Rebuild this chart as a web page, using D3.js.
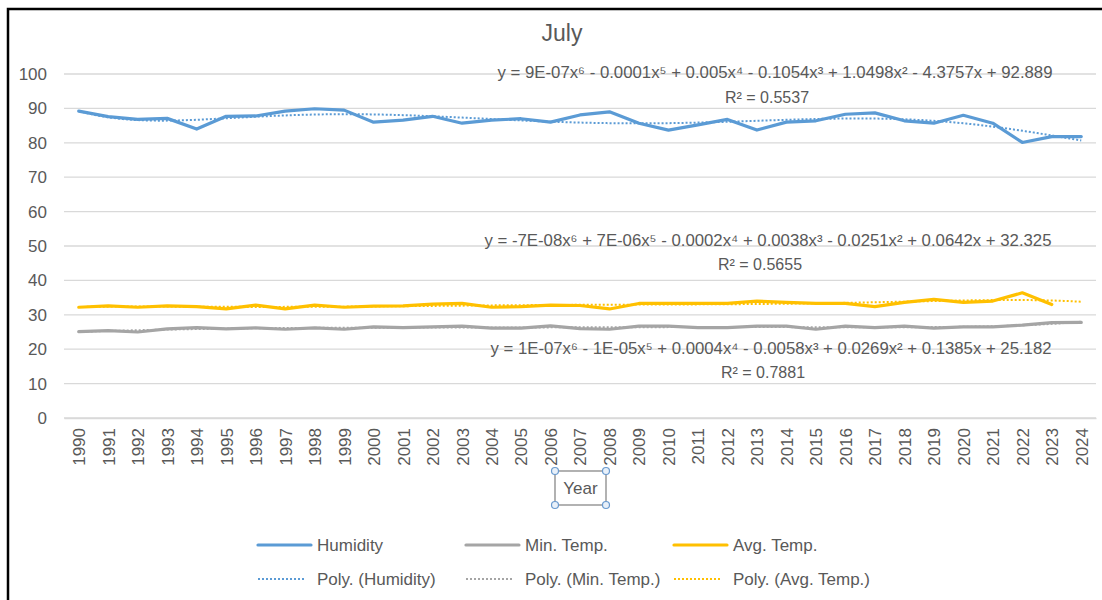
<!DOCTYPE html>
<html>
<head>
<meta charset="utf-8">
<script src="https://cdn.jsdelivr.net/npm/d3@7"></script>
<style>
  body { margin: 0; background: #fff; }
  text { font-family: "Liberation Sans", "DejaVu Sans", sans-serif; fill: #595959; }
</style>
</head>
<body>
<div id="chart"></div>
<script>
const years = d3.range(1990, 2025).map(String);

const humidity = [89.2, 87.6, 86.8, 87.1, 84.0, 87.7, 87.8, 89.2, 89.9, 89.5,
                  86.0, 86.6, 87.7, 85.7, 86.6, 87.0, 86.0, 88.1, 89.0, 85.7,
                  83.7, 85.2, 86.8, 83.7, 86.0, 86.4, 88.3, 88.7, 86.4, 85.7,
                  88.0, 85.7, 80.1, 81.8, 81.8];

const minTemp = [25.1, 25.4, 25.0, 25.9, 26.3, 25.9, 26.2, 25.8, 26.2, 25.8,
                 26.5, 26.3, 26.5, 26.7, 26.1, 26.1, 26.8, 26.0, 25.8, 26.7,
                 26.7, 26.3, 26.3, 26.7, 26.7, 25.8, 26.7, 26.3, 26.7, 26.1,
                 26.5, 26.5, 27.0, 27.7, 27.8];

// no Avg. Temp. reading for 2024
const avgTemp = [32.2, 32.6, 32.2, 32.6, 32.4, 31.7, 32.8, 31.7, 32.8, 32.2,
                 32.5, 32.6, 33.1, 33.3, 32.2, 32.4, 32.8, 32.7, 31.7, 33.3,
                 33.3, 33.3, 33.3, 34.0, 33.6, 33.3, 33.3, 32.4, 33.6, 34.5,
                 33.6, 34.0, 36.4, 33.0, null];

const yTicks = [0, 10, 20, 30, 40, 50, 60, 70, 80, 90, 100];

const seriesNames = ["Humidity", "Min. Temp.", "Avg. Temp."];
const seriesColors = ["#5B9BD5", "#A5A5A5", "#FFC000"];
const trendNames = ["Poly. (Humidity)", "Poly. (Min. Temp.)", "Poly. (Avg. Temp.)"];

const equations = [
  ["y = 9E-07x\u2076 - 0.0001x\u2075 + 0.005x\u2074 - 0.1054x\u00b3 + 1.0498x\u00b2 - 4.3757x + 92.889", "R\u00b2 = 0.5537"],
  ["y = 1E-07x\u2076 - 1E-05x\u2075 + 0.0004x\u2074 - 0.0058x\u00b3 + 0.0269x\u00b2 + 0.1385x + 25.182", "R\u00b2 = 0.7881"],
  ["y = -7E-08x\u2076 + 7E-06x\u2075 - 0.0002x\u2074 + 0.0038x\u00b3 - 0.0251x\u00b2 + 0.0642x + 32.325", "R\u00b2 = 0.5655"]
];

const allSeries = [humidity, minTemp, avgTemp];

// least squares polynomial (order 6) on x = 1..n, like Excel's trendline
function polyFit(vals, order) {
  const pts = vals.map((v, i) => [i + 1, v]).filter(d => d[1] != null);
  const n = pts.length;
  const mid = (pts[0][0] + pts[n - 1][0]) / 2, half = (pts[n - 1][0] - pts[0][0]) / 2;
  const m = order + 1;
  const A = [];
  for (let r = 0; r < m; r++) A.push(new Array(m + 1).fill(0));
  pts.forEach(([x, y]) => {
    const t = (x - mid) / half;
    const p = [];
    for (let k = 0; k < m; k++) p.push(Math.pow(t, k));
    for (let r = 0; r < m; r++) {
      for (let c = 0; c < m; c++) A[r][c] += p[r] * p[c];
      A[r][m] += p[r] * y;
    }
  });
  for (let c = 0; c < m; c++) {
    let piv = c;
    for (let r = c + 1; r < m; r++) if (Math.abs(A[r][c]) > Math.abs(A[piv][c])) piv = r;
    [A[c], A[piv]] = [A[piv], A[c]];
    for (let r = 0; r < m; r++) {
      if (r == c) continue;
      const f = A[r][c] / A[c][c];
      for (let k = c; k <= m; k++) A[r][k] -= f * A[c][k];
    }
  }
  const coef = A.map((row, i) => row[m] / row[i]);
  return x => {
    const t = (x - mid) / half;
    let s = 0;
    for (let k = 0; k < m; k++) s += coef[k] * Math.pow(t, k);
    return s;
  };
}

const width = 1102, height = 600;

const svg = d3.select("#chart")
  .append("svg")
  .attr("width", width)
  .attr("height", height);

// chart frame (left and top edges are in view)
svg.append("path")
  .attr("d", "M8,600 V9 H1102")
  .attr("fill", "none")
  .attr("stroke", "#000")
  .attr("stroke-width", 2.5);

const x = d3.scalePoint()
  .domain(years)
  .range([64, 1096])
  .padding(0.5);

const y = d3.scaleLinear()
  .domain([0, 100])
  .range([418, 74]);

const xAt = i => x(years[0]) + (i - 1) * x.step();

svg.append("text")
  .attr("x", 562)
  .attr("y", 41)
  .attr("text-anchor", "middle")
  .style("font-size", "23px")
  .text("July");

// grid lines
svg.append("g")
  .selectAll("line")
  .data(yTicks)
  .enter()
  .append("line")
  .attr("x1", 64)
  .attr("x2", 1096)
  .attr("y1", d => y(d))
  .attr("y2", d => y(d))
  .attr("stroke", "#D9D9D9")
  .attr("stroke-width", 1.3);

const yAxis = svg.append("g")
  .attr("transform", "translate(64,0)")
  .call(d3.axisLeft(y).tickValues(yTicks).tickSize(0).tickPadding(17));
yAxis.select(".domain").remove();
yAxis.selectAll("text")
  .style("font-size", "17px")
  .style("fill", "#595959")
  .attr("font-family", null);

const xAxis = svg.append("g")
  .attr("transform", "translate(0,418)")
  .call(d3.axisBottom(x).tickSize(0));
xAxis.select(".domain").attr("stroke", "#D9D9D9").attr("stroke-width", 1.3);
xAxis.selectAll("text")
  .attr("font-family", null)
  .style("font-size", "17px")
  .style("fill", "#595959")
  .attr("text-anchor", "end")
  .attr("transform", "rotate(-90)")
  .attr("x", -10)
  .attr("y", 0)
  .attr("dy", "0.35em");

// trendlines
const drawOrder = [1, 2, 0];
drawOrder.forEach(s => {
  const vals = allSeries[s];
  const f = polyFit(vals, 6);
  const pts = d3.range(1, vals.length + 0.001, 0.1).map(i => [xAt(i), y(f(i))]);
  svg.append("path")
    .datum(pts)
    .attr("d", d3.line().curve(d3.curveLinear))
    .attr("fill", "none")
    .attr("stroke", seriesColors[s])
    .attr("stroke-width", 2)
    .attr("stroke-dasharray", "2,2");
});

// data lines
drawOrder.forEach(s => {
  const line = d3.line()
    .defined(d => d != null)
    .x((d, i) => x(years[i]))
    .y(d => y(d));
  svg.append("path")
    .datum(allSeries[s])
    .attr("d", line)
    .attr("fill", "none")
    .attr("stroke", seriesColors[s])
    .attr("stroke-width", 3.2)
    .attr("stroke-linejoin", "round")
    .attr("stroke-linecap", "round");
});

// trendline equations
const eqPos = [[775, 78, 103, 555], [771, 354, 378, 561], [768, 246, 270, 567]];
equations.forEach((eq, i) => {
  const p = eqPos[i];
  svg.append("text")
    .attr("x", p[0]).attr("y", p[1])
    .attr("text-anchor", "middle")
    .attr("textLength", p[3])
    .attr("lengthAdjust", "spacingAndGlyphs")
    .style("font-size", "16px")
    .text(eq[0]);
  svg.append("text")
    .attr("x", p[0] - 8).attr("y", p[2])
    .attr("text-anchor", "middle")
    .style("font-size", "16px")
    .text(eq[1]);
});

// axis title, still selected
const tb = svg.append("g");
tb.append("rect")
  .attr("x", 555).attr("y", 471)
  .attr("width", 51).attr("height", 34)
  .attr("fill", "#fff")
  .attr("stroke", "#7F7F7F")
  .attr("stroke-width", 1.2);
tb.append("text")
  .attr("x", 580.5).attr("y", 494)
  .attr("text-anchor", "middle")
  .style("font-size", "17px")
  .text("Year");
[[555, 471], [606, 471], [555, 505], [606, 505]].forEach(c => {
  tb.append("circle")
    .attr("cx", c[0]).attr("cy", c[1]).attr("r", 3.5)
    .attr("fill", "#E8F0F9")
    .attr("stroke", "#6A9ACF")
    .attr("stroke-width", 1.2);
});

// legend
const legX = [258, 466, 674];
const legend = svg.append("g");
seriesNames.forEach((name, i) => {
  legend.append("line")
    .attr("x1", legX[i]).attr("x2", legX[i] + 53)
    .attr("y1", 545).attr("y2", 545)
    .attr("stroke", seriesColors[i])
    .attr("stroke-width", 3.2)
    .attr("stroke-linecap", "round");
  legend.append("text")
    .attr("x", legX[i] + 59).attr("y", 551)
    .style("font-size", "17px")
    .text(name);
});
trendNames.forEach((name, i) => {
  legend.append("line")
    .attr("x1", legX[i]).attr("x2", legX[i] + 48)
    .attr("y1", 579).attr("y2", 579)
    .attr("stroke", seriesColors[i])
    .attr("stroke-width", 2)
    .attr("stroke-dasharray", "2,2");
  legend.append("text")
    .attr("x", legX[i] + 59).attr("y", 585)
    .style("font-size", "17px")
    .text(name);
});
</script>
</body>
</html>
